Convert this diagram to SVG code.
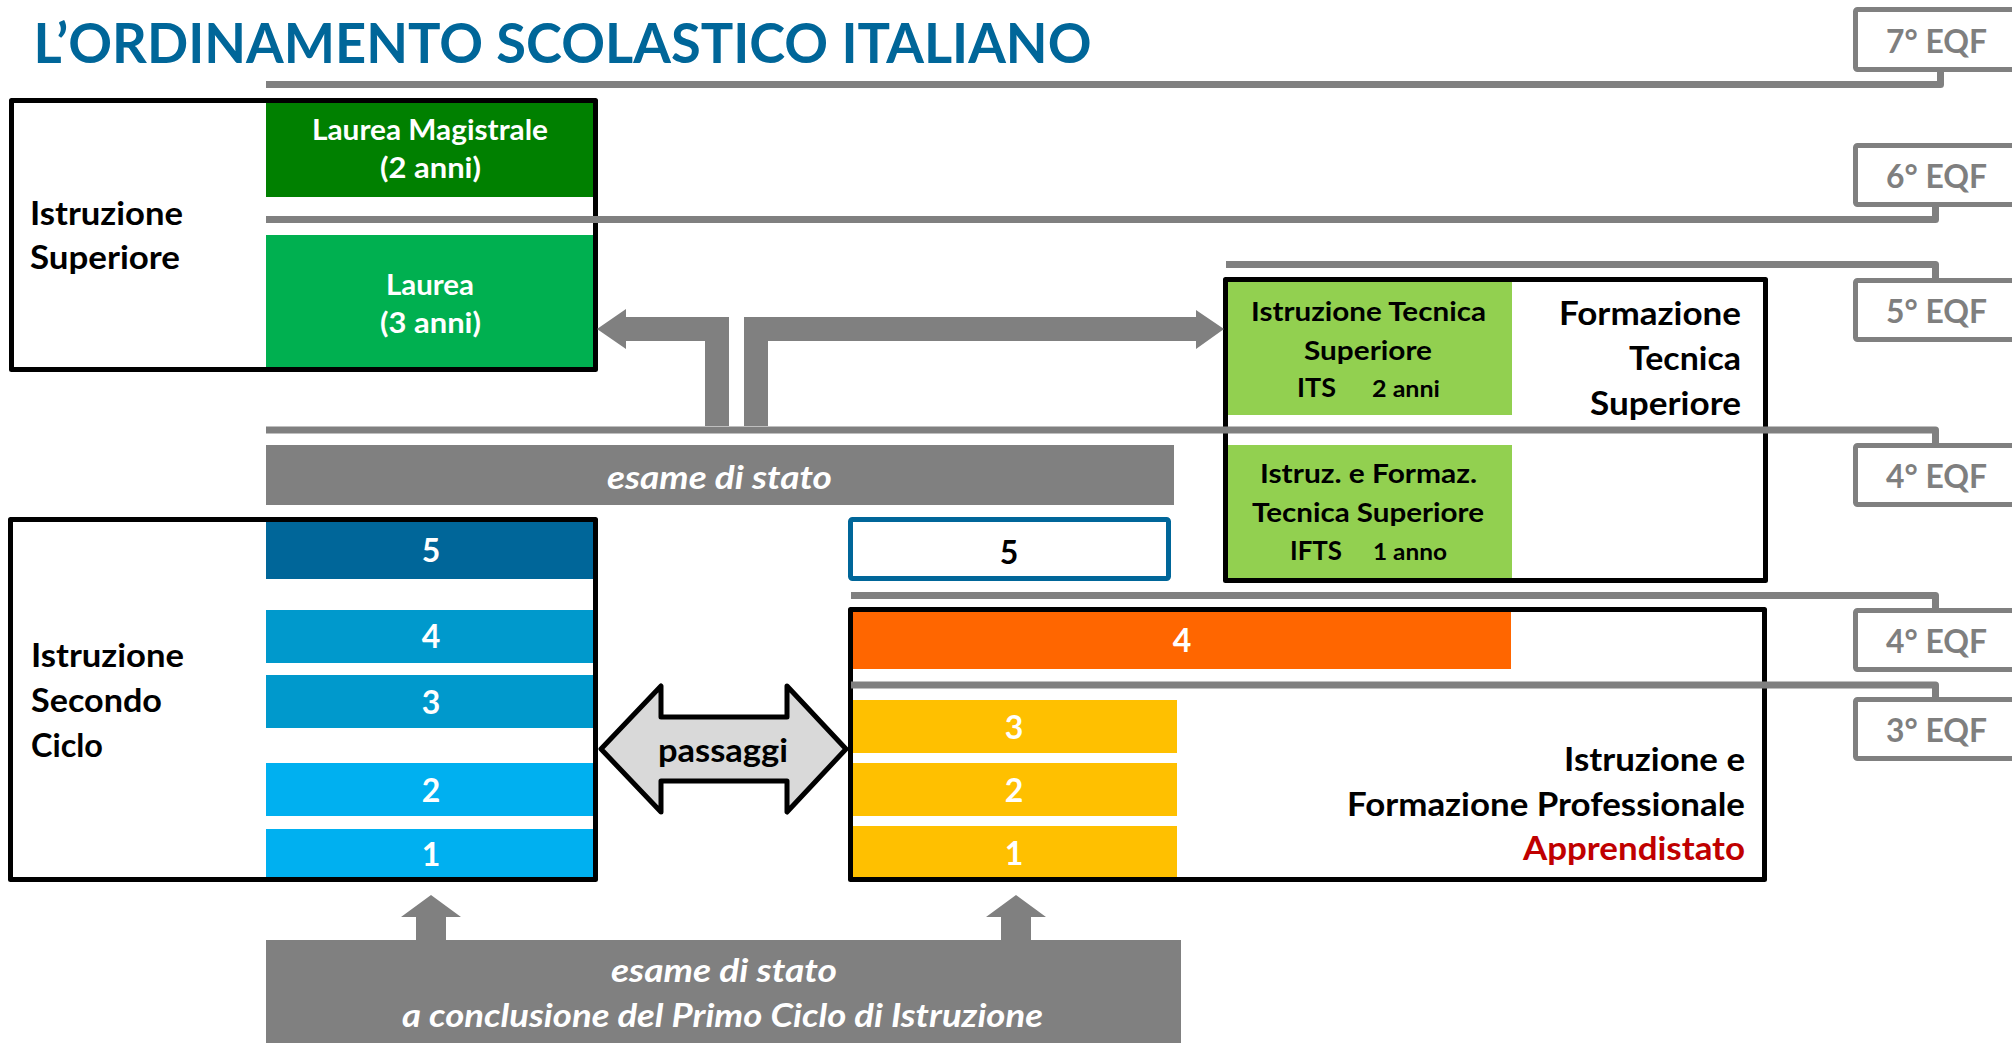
<svg xmlns="http://www.w3.org/2000/svg" width="2012" height="1043" viewBox="0 0 2012 1043">
<style>
text{font-family:Lato,"Open Sans","Liberation Sans",sans-serif;font-weight:700}
.lbl{font-size:33px;fill:#000}
.wh{fill:#fff}
.it{font-style:italic;fill:#fff;font-size:33px}
.dig{font-size:32px;fill:#fff;text-anchor:middle}
.sm{font-size:27px;fill:#000}
.xs{font-size:22px;fill:#000}
.frame{fill:none;stroke:#000;stroke-width:5;stroke-linejoin:round}
.eqfbox{fill:#fff;stroke:#808080;stroke-width:5}
.eqft{font-size:33px;fill:#7f7f7f}
.lvl{fill:none;stroke:#808080;stroke-width:7;stroke-linejoin:round}
.gray{fill:#808080}
</style>

<g id="title">
<text x="33.5" y="63" font-size="55" fill="#006699" textLength="1058" lengthAdjust="spacingAndGlyphs">L’ORDINAMENTO SCOLASTICO ITALIANO</text>
</g>

<g id="istruzione-superiore">
<rect x="266" y="103" width="327" height="94" fill="#008000"/>
<rect x="266" y="235" width="327" height="132" fill="#00B050"/>
<rect class="frame" x="11.5" y="100.5" width="584" height="269"/>
<text class="lbl" x="30" y="225" textLength="153" lengthAdjust="spacingAndGlyphs">Istruzione</text>
<text class="lbl" x="30" y="269" textLength="150" lengthAdjust="spacingAndGlyphs">Superiore</text>
<text class="wh" font-size="29" x="312" y="140" textLength="236" lengthAdjust="spacingAndGlyphs">Laurea Magistrale</text>
<text class="wh" font-size="29" x="380" y="178" textLength="101" lengthAdjust="spacingAndGlyphs">(2 anni)</text>
<text class="wh" font-size="29" x="386" y="295" textLength="88" lengthAdjust="spacingAndGlyphs">Laurea</text>
<text class="wh" font-size="29" x="380" y="333" textLength="101" lengthAdjust="spacingAndGlyphs">(3 anni)</text>
</g>

<g id="esame-di-stato">
<rect class="gray" x="266" y="445" width="908" height="60"/>
<text class="it" x="607" y="489" textLength="225" lengthAdjust="spacingAndGlyphs">esame di stato</text>
</g>

<g id="istruzione-secondo-ciclo">
<rect x="266" y="522" width="327" height="57" fill="#006699"/>
<rect x="266" y="610" width="327" height="53" fill="#0099CC"/>
<rect x="266" y="675" width="327" height="53" fill="#0099CC"/>
<rect x="266" y="763" width="327" height="53" fill="#00B0F0"/>
<rect x="266" y="829" width="327" height="49" fill="#00B0F0"/>
<rect class="frame" x="10.5" y="519.5" width="585" height="360"/>
<text class="dig" x="431" y="562">5</text>
<text class="dig" x="431" y="648">4</text>
<text class="dig" x="431" y="714">3</text>
<text class="dig" x="431" y="802">2</text>
<text class="dig" x="431" y="866">1</text>
<text class="lbl" x="31" y="667" textLength="153" lengthAdjust="spacingAndGlyphs">Istruzione</text>
<text class="lbl" x="31" y="712" textLength="131" lengthAdjust="spacingAndGlyphs">Secondo</text>
<text class="lbl" x="31" y="757" textLength="72" lengthAdjust="spacingAndGlyphs">Ciclo</text>
</g>

<g id="quinto-anno">
<rect x="850.5" y="519.5" width="318" height="59" rx="2" fill="#fff" stroke="#006699" stroke-width="5"/>
<text class="dig" x="1009" y="564" style="fill:#000">5</text>
</g>

<g id="passaggi">
<polygon points="601,749 661,686 661,717 787,717 787,686 846,749 787,812 787,781 661,781 661,812" fill="#D9D9D9" stroke="#000" stroke-width="5" stroke-linejoin="round"/>
<text class="lbl" x="658" y="762" textLength="130" lengthAdjust="spacingAndGlyphs">passaggi</text>
</g>

<g id="iefp">
<rect x="853" y="612" width="658" height="57" fill="#FF6600"/>
<rect x="853" y="700" width="324" height="53" fill="#FFC000"/>
<rect x="853" y="763" width="324" height="53" fill="#FFC000"/>
<rect x="853" y="826" width="324" height="52" fill="#FFC000"/>
<rect class="frame" x="850.5" y="609.5" width="914" height="270"/>
<text class="dig" x="1182" y="652">4</text>
<text class="dig" x="1014" y="739">3</text>
<text class="dig" x="1014" y="802">2</text>
<text class="dig" x="1014" y="865">1</text>
<text class="lbl" x="1564" y="771" textLength="181" lengthAdjust="spacingAndGlyphs">Istruzione e</text>
<text class="lbl" x="1347" y="816" textLength="398" lengthAdjust="spacingAndGlyphs">Formazione Professionale</text>
<text class="lbl" x="1523" y="860" style="fill:#C00000" textLength="222" lengthAdjust="spacingAndGlyphs">Apprendistato</text>
</g>

<g id="formazione-tecnica-superiore">
<rect x="1228" y="282" width="284" height="133" fill="#92D050"/>
<rect x="1228" y="445" width="284" height="133" fill="#92D050"/>
<rect class="frame" x="1225.5" y="279.5" width="540" height="301"/>
<text class="sm" x="1251" y="321" textLength="235" lengthAdjust="spacingAndGlyphs">Istruzione Tecnica</text>
<text class="sm" x="1304" y="360" textLength="128" lengthAdjust="spacingAndGlyphs">Superiore</text>
<text class="sm" x="1297" y="397" textLength="39" lengthAdjust="spacingAndGlyphs">ITS</text>
<text class="xs" x="1372" y="397" textLength="68" lengthAdjust="spacingAndGlyphs">2 anni</text>
<text class="sm" x="1260" y="483" textLength="217" lengthAdjust="spacingAndGlyphs">Istruz. e Formaz.</text>
<text class="sm" x="1252" y="522" textLength="232" lengthAdjust="spacingAndGlyphs">Tecnica Superiore</text>
<text class="sm" x="1290" y="560" textLength="52" lengthAdjust="spacingAndGlyphs">IFTS</text>
<text class="xs" x="1373" y="560" textLength="74" lengthAdjust="spacingAndGlyphs">1 anno</text>
<text class="lbl" x="1559" y="325" textLength="182" lengthAdjust="spacingAndGlyphs">Formazione</text>
<text class="lbl" x="1629" y="370" textLength="112" lengthAdjust="spacingAndGlyphs">Tecnica</text>
<text class="lbl" x="1590" y="415" textLength="151" lengthAdjust="spacingAndGlyphs">Superiore</text>
</g>

<g id="primo-ciclo">
<rect class="gray" x="266" y="940" width="915" height="110"/>
<text class="it" x="611" y="982" textLength="226" lengthAdjust="spacingAndGlyphs">esame di stato</text>
<text class="it" x="402" y="1027" textLength="641" lengthAdjust="spacingAndGlyphs">a conclusione del Primo Ciclo di Istruzione</text>
</g>

<g id="eqf-7"><rect class="eqfbox" x="1855.5" y="9.5" width="200" height="60" rx="2"/><text class="eqft" x="1886" y="53" textLength="101" lengthAdjust="spacingAndGlyphs">7° EQF</text></g>
<g id="eqf-6"><rect class="eqfbox" x="1855.5" y="145.5" width="200" height="59" rx="2"/><text class="eqft" x="1886" y="188" textLength="101" lengthAdjust="spacingAndGlyphs">6° EQF</text></g>
<g id="eqf-5"><rect class="eqfbox" x="1855.5" y="280.5" width="200" height="59" rx="2"/><text class="eqft" x="1886" y="323" textLength="101" lengthAdjust="spacingAndGlyphs">5° EQF</text></g>
<g id="eqf-4a"><rect class="eqfbox" x="1855.5" y="445.5" width="200" height="59" rx="2"/><text class="eqft" x="1886" y="488" textLength="101" lengthAdjust="spacingAndGlyphs">4° EQF</text></g>
<g id="eqf-4b"><rect class="eqfbox" x="1855.5" y="610.5" width="200" height="59" rx="2"/><text class="eqft" x="1886" y="653" textLength="101" lengthAdjust="spacingAndGlyphs">4° EQF</text></g>
<g id="eqf-3"><rect class="eqfbox" x="1855.5" y="699.5" width="200" height="59" rx="2"/><text class="eqft" x="1886" y="742" textLength="101" lengthAdjust="spacingAndGlyphs">3° EQF</text></g>

<g id="connectors">
<path class="lvl" d="M266,84.5 H1940.5 V71"/>
<path class="lvl" d="M266,219.5 H1935.5 V206"/>
<path class="lvl" d="M1226,264.5 H1935.5 V280"/>
<path class="lvl" d="M266,430 H1935.5 V445"/>
<path class="lvl" d="M851,595.5 H1935.5 V610"/>
<path class="lvl" d="M851,685 H1935.5 V699"/>
<polygon class="gray" points="729,426 729,317 626,317 626,309 597,329 626,349 626,341 705,341 705,426"/>
<polygon class="gray" points="744,426 744,317 1196,317 1196,310 1224,329 1196,349 1196,341 768,341 768,426"/>
<polygon class="gray" points="416,940 416,917 401,917 431,895 461,917 446,917 446,940"/>
<polygon class="gray" points="1001,940 1001,917 986,917 1016,895 1046,917 1031,917 1031,940"/>
</g>
</svg>
